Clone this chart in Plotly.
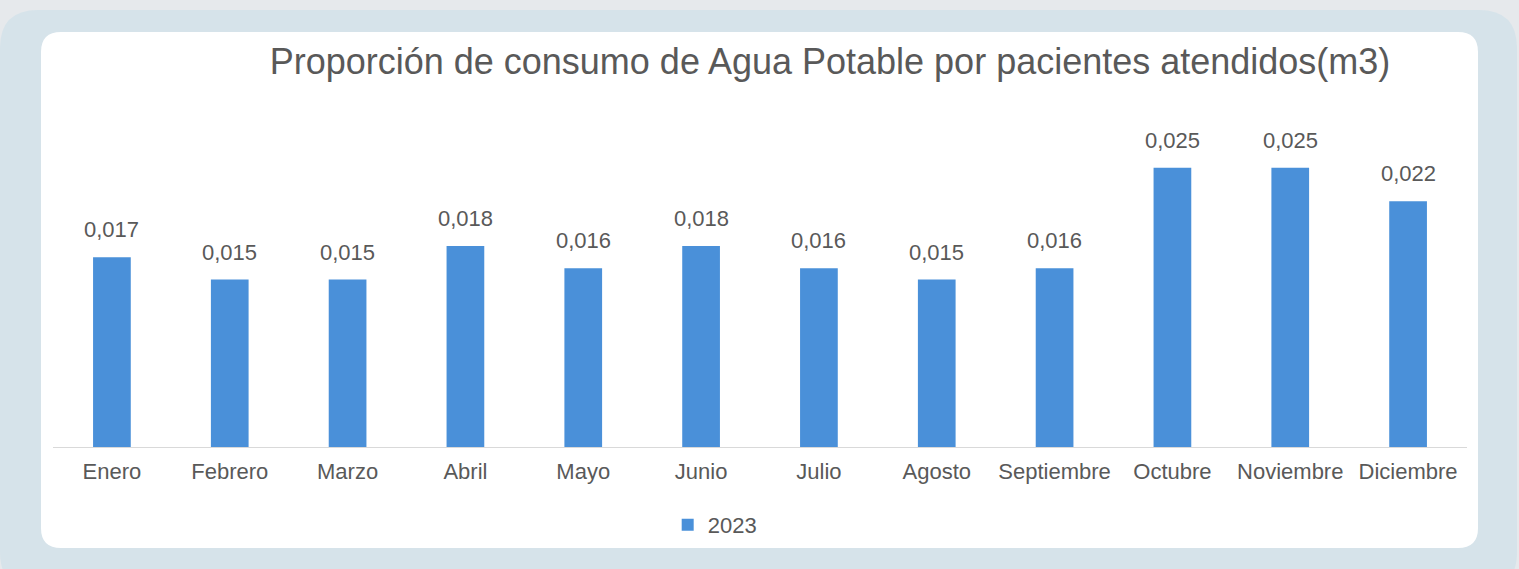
import plotly.graph_objects as go

W, H = 1519, 569

months = ["Enero", "Febrero", "Marzo", "Abril", "Mayo", "Junio", "Julio",
          "Agosto", "Septiembre", "Octubre", "Noviembre", "Diciembre"]
values_2023 = [0.017, 0.015, 0.015, 0.018, 0.016, 0.018, 0.016,
               0.015, 0.016, 0.025, 0.025, 0.022]
series_name = "2023"
title_text = "Proporción de consumo de Agua Potable por pacientes atendidos(m3)"

BAR = "#4a90d9"
TXT = "#595959"
FONT = "Liberation Sans, Arial, sans-serif"


def px(x):
    return x / W


def py(y):
    return 1 - y / H


def rounded(x0, y0, x1, y1, r):
    pts = [
        ("M", x0 + r, y0), ("L", x1 - r, y0), ("Q", x1, y0, x1, y0 + r),
        ("L", x1, y1 - r), ("Q", x1, y1, x1 - r, y1), ("L", x0 + r, y1),
        ("Q", x0, y1, x0, y1 - r), ("L", x0, y0 + r), ("Q", x0, y0, x0 + r, y0),
    ]
    s = ""
    for p in pts:
        cmd = p[0]
        coords = p[1:]
        parts = []
        for i in range(0, len(coords), 2):
            parts.append(f"{px(coords[i]):.6f},{py(coords[i+1]):.6f}")
        s += cmd + " " + " ".join(parts) + " "
    return s + "Z"


fig = go.Figure()
fig.add_trace(go.Bar(
    x=months, y=values_2023, name=series_name,
    marker=dict(color=BAR, line=dict(width=0)),
    width=0.32,
    hoverinfo="x+y",
))

# data labels above bars
for m, v in zip(months, values_2023):
    fig.add_annotation(x=m, y=v, xref="x", yref="y", text=f"{v:.3f}".replace(".", ","),
                       showarrow=False, yanchor="bottom", yshift=13,
                       font=dict(family=FONT, size=22, color=TXT))

fig.update_layout(
    width=W, height=H,
    margin=dict(l=0, r=0, t=0, b=0),
    paper_bgcolor="#e6e9ec",
    plot_bgcolor="rgba(0,0,0,0)",
    showlegend=True,
    legend=dict(orientation="h", x=0.4705, y=py(525), xanchor="center", yanchor="middle",
                font=dict(family=FONT, size=22, color=TXT), bgcolor="rgba(0,0,0,0)",
                itemwidth=30),
    title=dict(text=title_text, x=px(830), y=py(61), xanchor="center", yanchor="middle",
               font=dict(family=FONT, size=36, color=TXT)),
    xaxis=dict(domain=[px(53), px(1467)], showgrid=False, showline=True,
               linecolor="#d9d9d9", linewidth=1, ticks="", ticklabelstandoff=5,
               tickfont=dict(family=FONT, size=22, color=TXT), fixedrange=True),
    yaxis=dict(domain=[py(447), py(112)], range=[0, 0.03], visible=False,
               showgrid=False, zeroline=False, fixedrange=True),
    bargap=0.68,
    shapes=[
        dict(type="path", xref="paper", yref="paper", layer="below",
             path=rounded(0, 10, 1517, 590, 38), fillcolor="#d6e3ea", line=dict(width=0)),
        dict(type="path", xref="paper", yref="paper", layer="below",
             path=rounded(41, 32, 1478, 548, 20), fillcolor="#ffffff", line=dict(width=0)),
    ],
)

fig.write_html("out.html", config={"displayModeBar": False},
               post_script="document.body.style.margin='0';document.body.style.overflow='hidden';")
